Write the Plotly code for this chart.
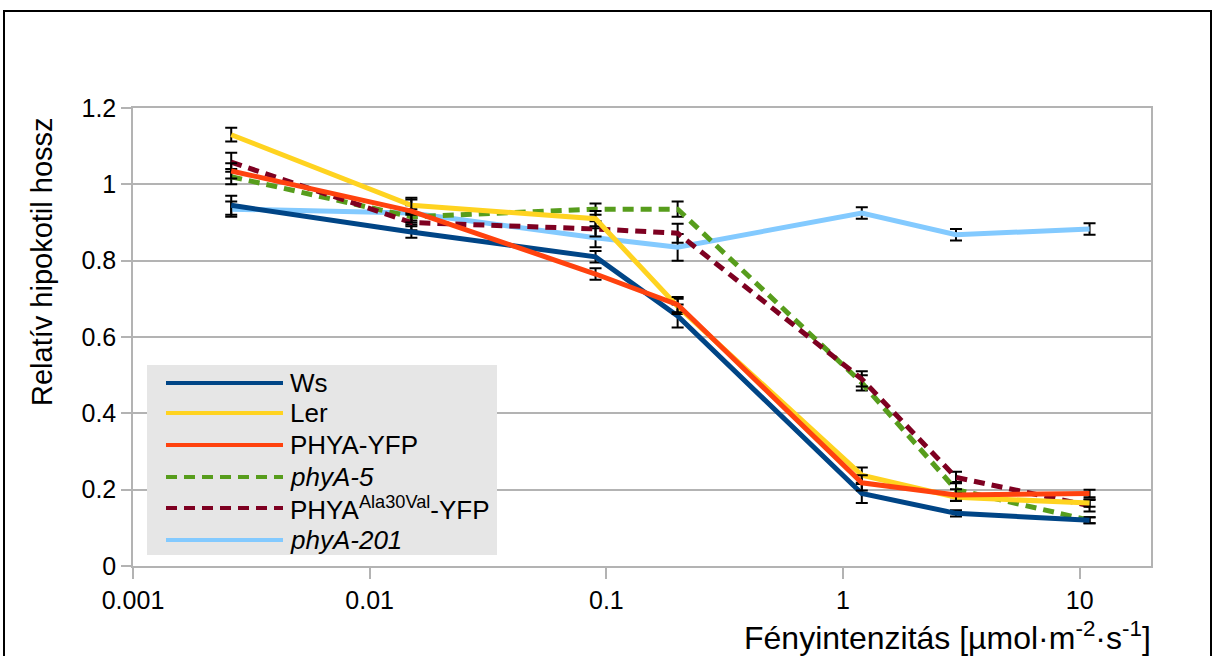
import plotly.graph_objects as go

# Light intensity (µmol·m-2·s-1) at which hypocotyls were measured
intensity = [0.0026, 0.015, 0.09, 0.2, 1.2, 3, 11]

# Relative hypocotyl length per line, with error bars
ws = [0.945, 0.875, 0.81, 0.655, 0.19, 0.138, 0.12]
ws_err = [0.025, 0.015, 0.015, 0.03, 0.025, 0.008, 0.008]

ler = [1.13, 0.945, 0.91, 0.68, 0.238, 0.18, 0.165]
ler_err = [0.018, 0.02, 0.02, 0.02, 0.02, 0.01, 0.01]

phya_yfp = [1.035, 0.93, 0.765, 0.685, 0.218, 0.186, 0.19]
phya_yfp_err = [0.02, 0.03, 0.015, 0.02, 0.02, 0.015, 0.01]

phya5 = [1.02, 0.915, 0.935, 0.935, 0.48, 0.2, 0.12]
phya5_err = [0.02, 0.02, 0.015, 0.02, 0.02, 0.02, 0.008]

ala30val = [1.058, 0.9, 0.883, 0.872, 0.49, 0.232, 0.158]
ala30val_err = [0.025, 0.02, 0.02, 0.025, 0.02, 0.015, 0.015]

phya201 = [0.935, 0.925, 0.86, 0.835, 0.925, 0.868, 0.883]
phya201_err = [0.02, 0.02, 0.025, 0.035, 0.015, 0.015, 0.015]

x_ticks = [0.001, 0.01, 0.1, 1, 10]
x_tick_text = ["0.001", "0.01", "0.1", "1", "10"]
y_ticks = [0, 0.2, 0.4, 0.6, 0.8, 1.0, 1.2]
y_tick_text = ["0", "0.2", "0.4", "0.6", "0.8", "1", "1.2"]

FONT = "Liberation Sans, Arial, sans-serif"
W, H = 1214, 656
L, R, T, B = 133, 63, 108, 90
PW, PH = W - L - R, H - T - B


def px(x):
    return (x - L) / PW


def py(y):
    return (H - B - y) / PH


series = [
    # (name, legend label, values, errors, colour, dash)
    ("phyA-201", "<i>phyA-201</i>", phya201, phya201_err, "#83caff", "solid"),
    ("phyA-5", "<i>phyA-5</i>", phya5, phya5_err, "#579d1c", "11px,7px"),
    ("PHYA Ala30Val-YFP", "PHYA<sup>Ala30Val</sup>-YFP", ala30val, ala30val_err, "#7e0021", "11px,7px"),
    ("Ws", "Ws", ws, ws_err, "#004586", "solid"),
    ("Ler", "Ler", ler, ler_err, "#ffd320", "solid"),
    ("PHYA-YFP", "PHYA-YFP", phya_yfp, phya_yfp_err, "#ff420e", "solid"),
]

fig = go.Figure()
for name, _, vals, errs, color, dash in series:
    fig.add_trace(go.Scatter(
        x=intensity, y=vals, name=name, mode="lines",
        line=dict(color=color, width=5, dash=dash),
        error_y=dict(type="data", array=errs, visible=True,
                     color="#000000", thickness=2, width=6),
        showlegend=False,
    ))

# Hand-drawn legend box
legend_order = ["Ws", "Ler", "PHYA-YFP", "phyA-5", "PHYA Ala30Val-YFP", "phyA-201"]
row_y = [383, 413, 445, 477, 508, 540]
shapes = [
    dict(type="rect", xref="paper", yref="paper",
         x0=px(147), x1=px(497), y0=py(555), y1=py(365),
         fillcolor="#e6e6e6", line=dict(width=0), layer="above"),
    # frame around the whole figure
    dict(type="rect", xref="paper", yref="paper",
         x0=px(4), x1=px(1211), y0=py(700), y1=py(11),
         line=dict(color="#000000", width=2), fillcolor="rgba(0,0,0,0)"),
]
annotations = []
lookup = {s[0]: s for s in series}
for name, yy in zip(legend_order, row_y):
    _, label, _, _, color, dash = lookup[name]
    shapes.append(dict(type="line", xref="paper", yref="paper",
                       x0=px(166), x1=px(283), y0=py(yy), y1=py(yy),
                       line=dict(color=color, width=4, dash=dash), layer="above"))
    annotations.append(dict(xref="paper", yref="paper", x=px(288), y=py(yy),
                            text=label, showarrow=False, xanchor="left", yanchor="middle",
                            font=dict(family=FONT, size=26, color="#000000")))

# Axis titles
annotations.append(dict(xref="paper", yref="paper", x=px(1153), y=py(636),
                        text="Fényintenzitás [µmol·m<sup>-2</sup>·s<sup>-1</sup>]",
                        showarrow=False, xanchor="right", yanchor="middle",
                        font=dict(family=FONT, size=32, color="#000000")))
annotations.append(dict(xref="paper", yref="paper", x=px(42), y=py(262),
                        text="Relatív hipokotil hossz", textangle=-90,
                        showarrow=False, xanchor="center", yanchor="middle",
                        font=dict(family=FONT, size=29, color="#000000")))

fig.update_layout(
    width=W, height=H,
    margin=dict(l=L, r=R, t=T, b=B),
    paper_bgcolor="#ffffff", plot_bgcolor="#ffffff",
    font=dict(family=FONT, size=25, color="#000000"),
    shapes=shapes, annotations=annotations,
)
fig.update_xaxes(
    type="log", range=[-3, 1.30103],
    tickvals=x_ticks, ticktext=x_tick_text,
    showgrid=False, zeroline=False,
    showline=True, linecolor="#b3b3b3", linewidth=1.5, mirror=True,
    ticks="outside", ticklen=11, tickcolor="#b3b3b3", tickwidth=1.5,
    tickfont=dict(family=FONT, size=25, color="#000000"),
)
fig.update_yaxes(
    range=[0, 1.2],
    tickvals=y_ticks, ticktext=y_tick_text,
    showgrid=True, gridcolor="#b3b3b3", gridwidth=1.5, zeroline=False,
    showline=True, linecolor="#b3b3b3", linewidth=1.5, mirror=True,
    ticks="outside", ticklen=10, tickcolor="#b3b3b3", tickwidth=1.5,
    tickfont=dict(family=FONT, size=25, color="#000000"),
)

fig.write_html("out.html")
